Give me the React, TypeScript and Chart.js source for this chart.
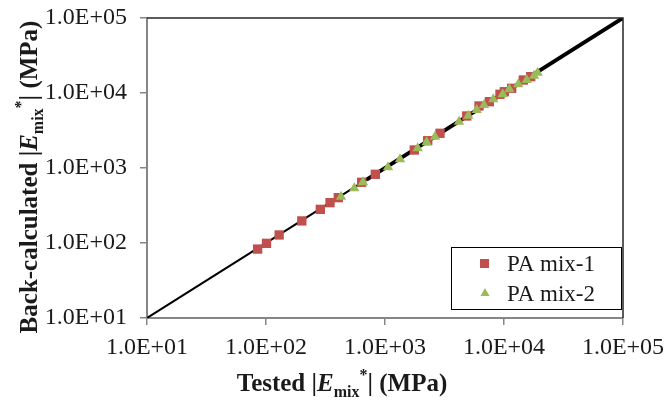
import React, { useEffect, useRef } from "react";
import { Chart, registerables } from "chart.js";

Chart.register(...registerables);

const redTested = [85, 101, 129, 200, 286, 345, 405, 637, 829, 1763, 2285, 2898, 4862, 6166, 7530, 9250, 10070, 11600, 14530, 16760];
const redBack = [83, 99, 128, 197, 281, 345, 402, 645, 824, 1738, 2312, 2902, 4937, 6714, 7656, 9610, 10400, 11550, 14900, 16500];
const greenTested = [427, 552, 653, 1060, 1337, 1883, 2240, 2632, 4188, 5012, 5900, 6792, 8128, 9750, 11090, 13180, 15520, 17870, 19190];
const greenBack = [414, 536, 645, 1021, 1306, 1831, 2203, 2614, 4144, 4981, 5933, 6918, 8241, 9610, 11200, 13060, 14900, 17020, 18660];
const tickValues = [10, 100, 1000, 10000, 100000];
const equalityLine = [10, 100000];
const thickLine = [700, 100000];
const seriesNames = ["PA mix-1", "PA mix-2"];

const RED = "#C0504D";
const GREEN = "#9BBB59";
const SERIF = "'Liberation Serif', 'Times New Roman', serif";
const TEXT = "#1a1a1a";

type Part = { text: string; font: string; dy: number };

function drawRich(ctx: CanvasRenderingContext2D, parts: Part[], cx: number, y: number) {
  let total = 0;
  parts.forEach((p) => {
    ctx.font = p.font;
    total += ctx.measureText(p.text).width;
  });
  let x = cx - total / 2;
  ctx.textAlign = "left";
  ctx.textBaseline = "alphabetic";
  parts.forEach((p) => {
    ctx.font = p.font;
    ctx.fillText(p.text, x, y + p.dy);
    x += ctx.measureText(p.text).width;
  });
}

function titleParts(prefix: string): Part[] {
  const b = `bold 25px ${SERIF}`;
  const bi = `italic bold 25px ${SERIF}`;
  const s = `bold 16px ${SERIF}`;
  return [
    { text: prefix + "|", font: b, dy: 0 },
    { text: "E", font: bi, dy: 0 },
    { text: "mix", font: s, dy: 6 },
    { text: "*", font: s, dy: -11 },
    { text: "| (MPa)", font: b, dy: 0 },
  ];
}

const decorPlugin = {
  id: "decor",
  afterDraw(chart: any) {
    const ctx: CanvasRenderingContext2D = chart.ctx;
    const a = chart.chartArea;
    ctx.save();
    ctx.strokeStyle = "#262626";
    ctx.lineWidth = 1.5;
    ctx.beginPath();
    ctx.moveTo(a.left, a.top);
    ctx.lineTo(a.right, a.top);
    ctx.lineTo(a.right, a.bottom);
    ctx.stroke();

    ctx.fillStyle = TEXT;
    drawRich(ctx, titleParts("Tested "), 342, 391);
    ctx.save();
    ctx.translate(37, 177);
    ctx.rotate(-Math.PI / 2);
    drawRich(ctx, titleParts("Back-calculated "), 0, 0);
    ctx.restore();

    const lx = 451, ly = 247, lw = 170, lh = 62;
    ctx.fillStyle = "#ffffff";
    ctx.fillRect(lx, ly, lw, lh);
    ctx.strokeStyle = "#000000";
    ctx.lineWidth = 1;
    ctx.strokeRect(lx + 0.5, ly + 0.5, lw, lh);
    ctx.fillStyle = RED;
    ctx.fillRect(480, 259, 9, 9);
    ctx.fillStyle = GREEN;
    ctx.beginPath();
    ctx.moveTo(485, 288);
    ctx.lineTo(489.5, 296);
    ctx.lineTo(480.5, 296);
    ctx.closePath();
    ctx.fill();
    ctx.fillStyle = TEXT;
    ctx.font = `23px ${SERIF}`;
    ctx.textAlign = "left";
    ctx.textBaseline = "alphabetic";
    ctx.fillText(seriesNames[0], 507, 271);
    ctx.fillText(seriesNames[1], 507, 301);
    ctx.restore();
  },
};

const fmt = (v: number) => {
  const e = Math.round(Math.log10(v));
  return "1.0E+" + String(e).padStart(2, "0");
};

export default function App() {
  const ref = useRef<HTMLCanvasElement | null>(null);
  useEffect(() => {
    document.body.style.margin = "0";
    const canvas = ref.current;
    if (!canvas) return;
    const axisCommon = {
      type: "logarithmic" as const,
      min: 10,
      max: 100000,
      afterBuildTicks: (scale: any) => {
        scale.ticks = tickValues.map((v) => ({ value: v }));
      },
      grid: {
        display: true,
        drawOnChartArea: false,
        drawTicks: true,
        tickLength: 7,
        color: "#868686",
        lineWidth: 1.5,
      },
      border: { display: true, color: "#868686", width: 2 },
    };
    const chart = new Chart(canvas, {
      type: "scatter",
      data: {
        datasets: [
          {
            label: seriesNames[1],
            data: greenTested.map((x, i) => ({ x, y: greenBack[i] })),
            pointStyle: "triangle",
            pointRadius: 6,
            backgroundColor: GREEN,
            borderColor: GREEN,
            borderWidth: 0,
          },
          {
            label: seriesNames[0],
            data: redTested.map((x, i) => ({ x, y: redBack[i] })),
            pointStyle: "rect",
            pointRadius: 6.6,
            backgroundColor: RED,
            borderColor: RED,
            borderWidth: 0,
          },
          {
            label: "thick",
            data: thickLine.map((v) => ({ x: v, y: v })),
            showLine: true,
            pointRadius: 0,
            borderColor: "#000000",
            borderWidth: 4,
          },
          {
            label: "equality",
            data: equalityLine.map((v) => ({ x: v, y: v })),
            showLine: true,
            pointRadius: 0,
            borderColor: "#000000",
            borderWidth: 2,
          },
        ],
      },
      options: {
        animation: false,
        responsive: false,
        layout: { padding: { left: 0, right: 42, top: 18, bottom: 0 } },
        plugins: { legend: { display: false }, tooltip: { enabled: false } },
        scales: {
          x: {
            ...axisCommon,
            position: "bottom",
            afterFit: (scale: any) => {
              scale.height = 83;
              scale.paddingLeft = 0;
              scale.paddingRight = 0;
            },
            ticks: {
              autoSkip: false,
              maxRotation: 0,
              padding: 8,
              color: TEXT,
              font: { family: SERIF, size: 24 },
              callback: (v: any) => fmt(Number(v)),
            },
          },
          y: {
            ...axisCommon,
            position: "left",
            afterFit: (scale: any) => {
              scale.width = 147;
              scale.paddingTop = 0;
              scale.paddingBottom = 0;
            },
            ticks: {
              autoSkip: false,
              padding: 13,
              color: TEXT,
              font: { family: SERIF, size: 24 },
              callback: (v: any) => fmt(Number(v)),
            },
          },
        },
      },
      plugins: [decorPlugin],
    } as any);
    return () => chart.destroy();
  }, []);
  return <canvas ref={ref} width={665} height={401} style={{ display: "block" }} />;
}
